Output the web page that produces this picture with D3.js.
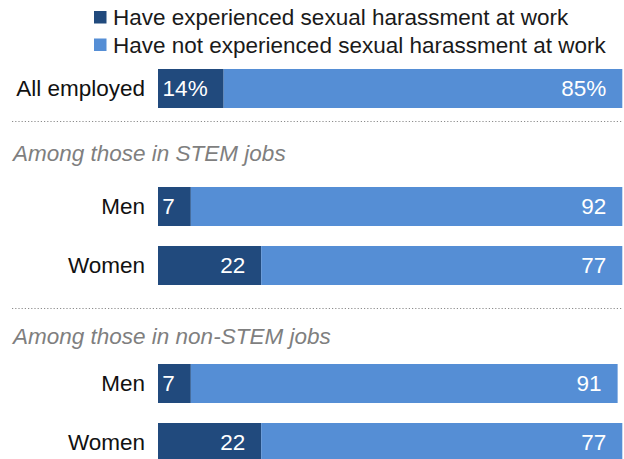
<!DOCTYPE html>
<html>
<head>
<meta charset="utf-8">
<script src="https://cdn.jsdelivr.net/npm/d3@7"></script>
<style>
  html, body { margin: 0; padding: 0; background: #ffffff; }
  svg { display: block; font-family: "Liberation Sans", Arial, sans-serif; }
</style>
</head>
<body>
<svg id="chart" width="624" height="459"></svg>
<script>
// ---- data ----
const seriesNames = [
  "Have experienced sexual harassment at work",
  "Have not experienced sexual harassment at work"
];
const rowLabels   = ["All employed", "Men", "Women", "Men", "Women"];
const rowGroups   = ["all", "stem", "stem", "nonstem", "nonstem"];
const experienced    = [14, 7, 22, 7, 22];
const notExperienced = [85, 92, 77, 91, 77];
const valueLabelsExp    = ["14%", "7", "22", "7", "22"];
const valueLabelsNotExp = ["85%", "92", "77", "91", "77"];
const groupTitles = ["Among those in STEM jobs", "Among those in non-STEM jobs"];

// ---- layout ----
const W = 624, H = 459;
const colors = ["#214a7d", "#558ed5"];
const FS = 22.5;
const svg = d3.select("#chart");

// slot order (step 59 px): rows interleaved with header slots
const slots = ["r0", "h0", "r1", "r2", "h1", "r3", "r4"];
const y = d3.scaleBand().domain(slots).range([69, 69 + 59 * 7 - 20])
  .paddingInner(20 / 59).paddingOuter(0).align(0);
const rowSlot = ["r0", "r1", "r2", "r3", "r4"];

const x = d3.scaleLinear().domain([0, 100]).range([158, 158 + 469]);

const rows = rowLabels.map((l, i) => ({
  label: l, group: rowGroups[i], a: experienced[i], b: notExperienced[i],
  la: valueLabelsExp[i], lb: valueLabelsNotExp[i], slot: rowSlot[i]
}));

// legend
const leg = svg.append("g");
seriesNames.forEach((s, i) => {
  const gy = 11 + i * 27.5;
  leg.append("rect").attr("x", 94).attr("y", gy).attr("width", 12.5).attr("height", 12.5).attr("fill", colors[i]);
  leg.append("text").attr("x", 113).attr("y", gy + 6.5).attr("dy", "0.35em")
    .attr("font-size", FS).attr("fill", "#1a1a1a").text(s);
});

// separators & group titles
const sepY = [121.5, 308.5];
const titleBase = [161, 344];
sepY.forEach((sy, i) => {
  svg.append("line").attr("x1", 12).attr("x2", 622).attr("y1", sy).attr("y2", sy)
    .attr("stroke", "#8c8c8c").attr("stroke-width", 1.2).attr("stroke-dasharray", "1.2,2");
  svg.append("text").attr("x", 13).attr("y", titleBase[i])
    .attr("font-size", FS).attr("font-style", "italic").attr("fill", "#7f7f7f").text(groupTitles[i]);
});

// bars
const g = svg.append("g").selectAll("g").data(rows).join("g")
  .attr("transform", d => `translate(0,${y(d.slot)})`);
const bh = y.bandwidth();

g.append("rect").attr("x", x(0)).attr("y", 0).attr("height", bh)
  .attr("width", d => x(d.a) - x(0)).attr("fill", colors[0]);
g.append("rect").attr("x", d => x(d.a)).attr("y", 0).attr("height", bh)
  .attr("width", d => x(d.a + d.b) - x(d.a)).attr("fill", colors[1]);

g.append("text").attr("x", x(0) - 13).attr("y", bh / 2).attr("dy", "0.35em")
  .attr("text-anchor", "end").attr("font-size", FS).attr("fill", "#111").text(d => d.label);

g.append("text").attr("x", d => x(d.a) - 16).attr("y", bh / 2).attr("dy", "0.35em")
  .attr("text-anchor", "end").attr("font-size", FS).attr("fill", "#fff").text(d => d.la);
g.append("text").attr("x", d => x(d.a + d.b) - 16).attr("y", bh / 2).attr("dy", "0.35em")
  .attr("text-anchor", "end").attr("font-size", FS).attr("fill", "#fff").text(d => d.lb);
</script>
</body>
</html>
